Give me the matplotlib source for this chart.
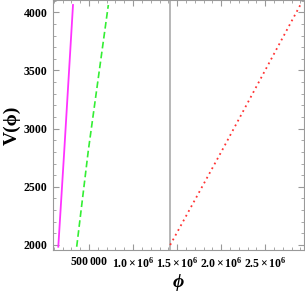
import matplotlib
matplotlib.use("Agg")
import matplotlib.pyplot as plt
from matplotlib.ticker import FixedLocator, MultipleLocator

# Data
phi_magenta = [0.151e6, 0.219e6, 0.318e6]
V_magenta = [1985, 2813, 4063]
phi_green = [0.360e6, 0.492e6, 0.719e6]
V_green = [1985, 2813, 4063]
phi_red = [1.421e6, 2.010e6, 2.898e6]
V_red = [2000, 2813, 4063]
axis_line_phi = 1.42e6

x_ticks = [5e5, 1.0e6, 1.5e6, 2.0e6, 2.5e6]
x_ticklabels = [r"$\mathbf{500\,000}$", r"$\mathbf{1.0\times10^{6}}$", r"$\mathbf{1.5\times10^{6}}$",
                r"$\mathbf{2.0\times10^{6}}$", r"$\mathbf{2.5\times10^{6}}$"]
y_ticks = [2000, 2500, 3000, 3500, 4000]
y_ticklabels = ["2000", "2500", "3000", "3500", "4000"]

fam = ["Liberation Serif", "DejaVu Serif"]
plt.rcParams["font.family"] = fam
plt.rcParams["mathtext.fontset"] = "custom"
plt.rcParams["mathtext.rm"] = "Liberation Serif"
plt.rcParams["mathtext.bf"] = "Liberation Serif:bold"
plt.rcParams["mathtext.it"] = "Liberation Serif:italic"

fig = plt.figure(figsize=(3.05, 2.95), dpi=100)
ax = fig.add_axes([53/305, 45/295, 251/305, 250/295])

ax.axvline(axis_line_phi, color="#aaaaaa", lw=1.2, zorder=1)
ax.plot(phi_magenta, V_magenta, color="#ff33ff", lw=1.3, zorder=3)
ax.plot(phi_green, V_green, color="#33ee33", lw=1.2, ls=(0, (4, 2)), zorder=3)
ax.plot(phi_red, V_red, color="#ff3333", lw=1.3, ls=(0, (1, 2)), zorder=3)

ax.set_xlim(0.091e6, 2.94e6)
ax.set_ylim(1957, 4106)

ax.xaxis.set_major_locator(FixedLocator(x_ticks))
ax.set_xticklabels(x_ticklabels)
ax.xaxis.set_minor_locator(MultipleLocator(1e5))
ax.yaxis.set_major_locator(FixedLocator(y_ticks))
ax.set_yticklabels(y_ticklabels)
ax.yaxis.set_minor_locator(MultipleLocator(100))

for lab in ax.get_xticklabels() + ax.get_yticklabels():
    lab.set_fontweight("bold")
    lab.set_fontsize(8.5)
    lab.set_family(fam)

ax.tick_params(which="both", direction="in", top=True, right=True, color="#999999")
ax.tick_params(which="major", length=4, width=0.8, pad=4)
ax.tick_params(which="minor", length=2, width=0.6)
for s in ax.spines.values():
    s.set_color("#999999")
    s.set_linewidth(0.8)

ax.set_xlabel("ϕ", fontsize=14, fontweight="bold", fontstyle="italic", labelpad=3)
ax.set_ylabel("V(ϕ)", fontsize=14, fontweight="bold", labelpad=2)

fig.savefig("out.png", dpi=100)
